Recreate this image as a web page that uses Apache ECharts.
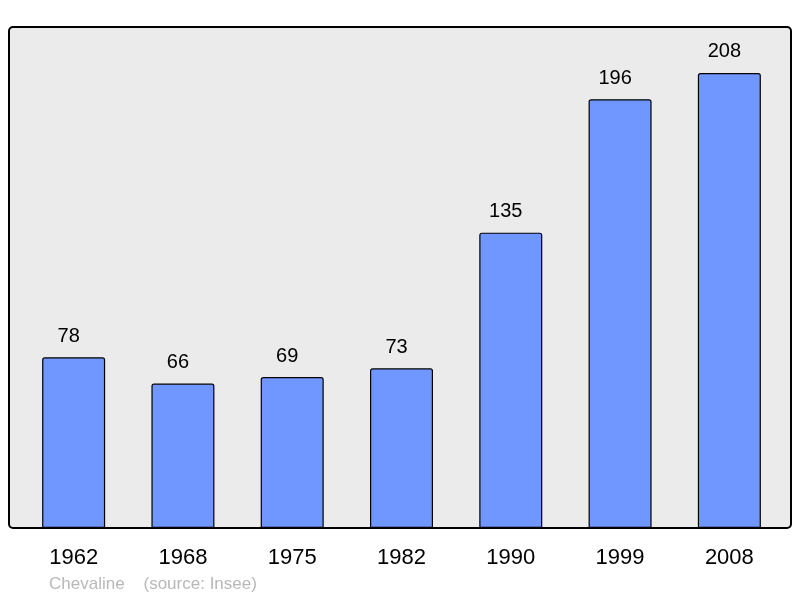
<!DOCTYPE html>
<html><head><meta charset="utf-8">
<script src="https://cdn.jsdelivr.net/npm/echarts@6/dist/echarts.min.js"></script>
<style>html,body{margin:0;padding:0;background:#fff}#c{width:800px;height:598px}</style>
</head><body><div id="c"></div>
<script>
const categories = ['1962','1968','1975','1982','1990','1999','2008'];
const population = [78, 66, 69, 73, 135, 196, 208];
const sourceText = 'Chevaline    (source: Insee)';

const chart = echarts.init(document.getElementById('c'), null, {renderer:'canvas'});
chart.setOption({
  animation:false,
  backgroundColor:'#ffffff',
  graphic:[
    {type:'rect', z:-10, shape:{x:9, y:27, width:782, height:501, r:4},
     style:{fill:'#ebebeb', stroke:'#000', lineWidth:2}},
    {type:'text', left:49, top:576, style:{text:sourceText, fill:'#b8b8b8', font:'17px "Liberation Sans", Arial, sans-serif'}}
  ],
  grid:{left:19, right:16, top:27, bottom:70},
  xAxis:{type:'category', data:categories,
    axisLine:{show:false}, axisTick:{show:false},
    axisLabel:{color:'#000', fontSize:22, fontFamily:'Liberation Sans, Arial, sans-serif', margin:19}},
  yAxis:{type:'value', min:0, max:229, show:false, splitLine:{show:false}},
  series:[{type:'bar', data:population, barWidth:63,
    itemStyle:{color:'#7097ff', borderColor:'#000', borderWidth:1.2, borderRadius:[2,2,0,0]},
    label:{show:true, position:'top', distance:11, offset:[-5,0], color:'#000', fontSize:20,
      fontFamily:'Liberation Sans, Arial, sans-serif'}}]
});
</script></body></html>
